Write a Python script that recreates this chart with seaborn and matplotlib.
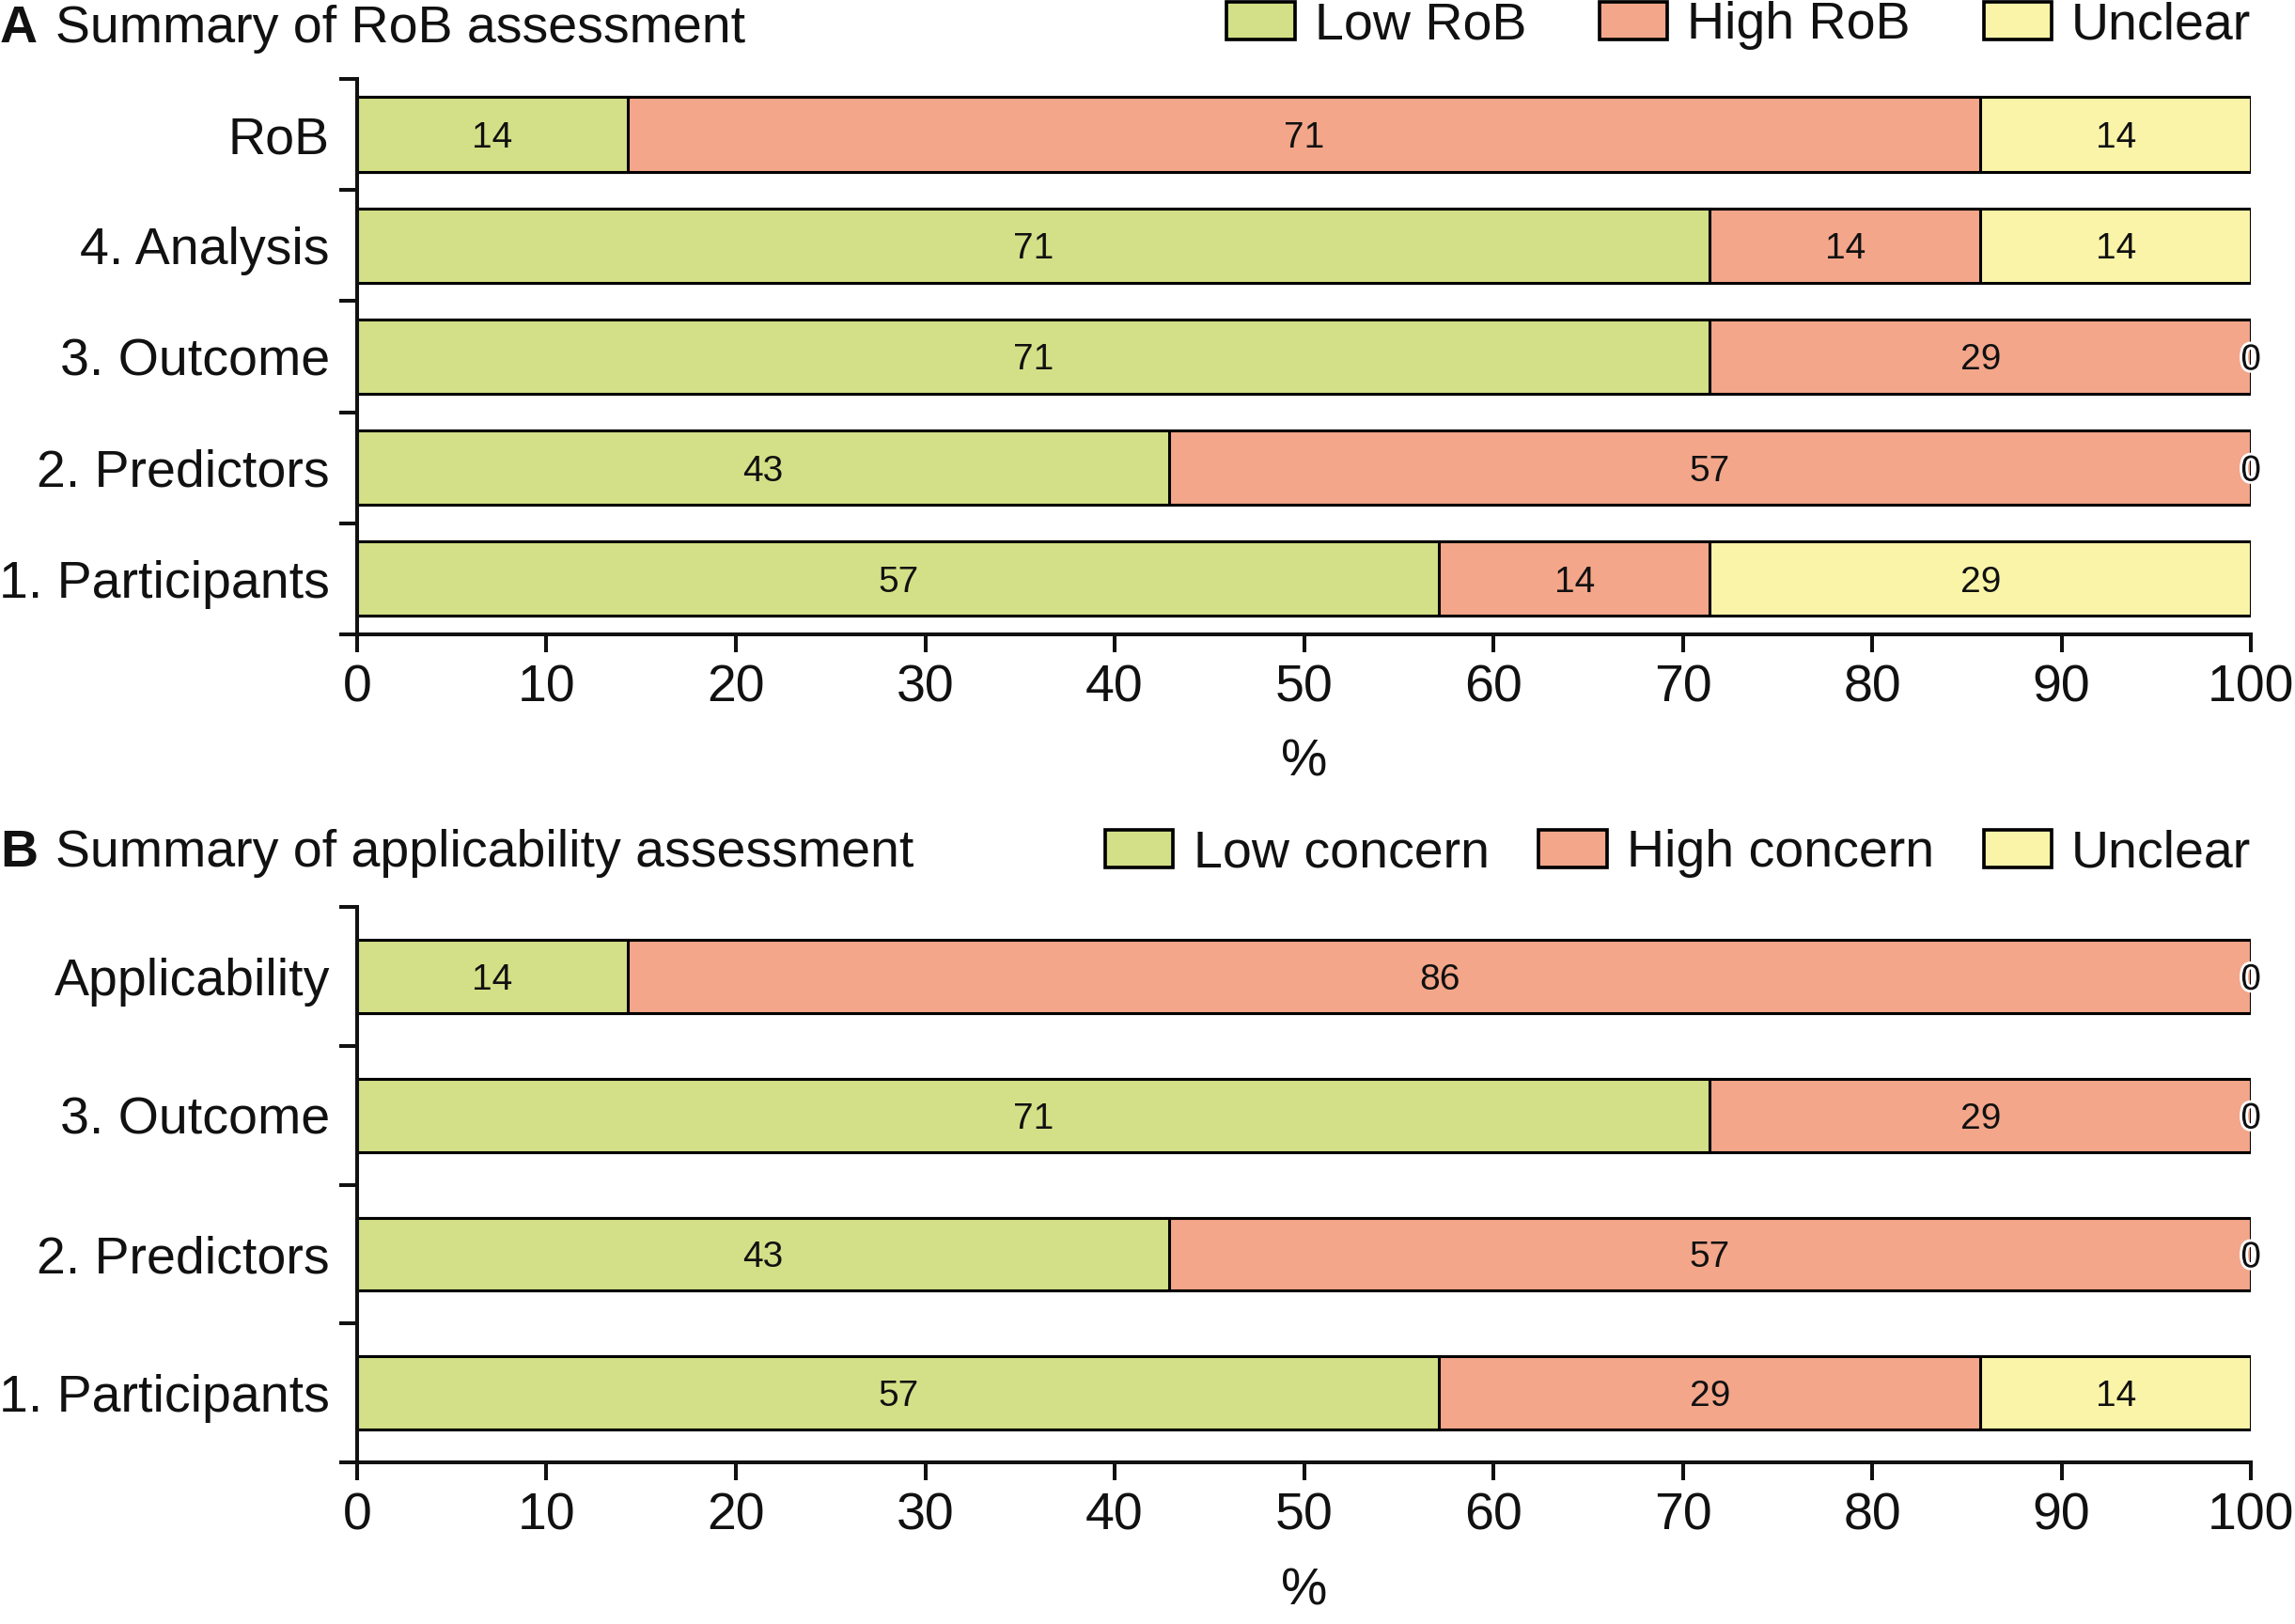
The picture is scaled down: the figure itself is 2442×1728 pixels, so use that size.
import numpy as np
import matplotlib
matplotlib.use("Agg")
import matplotlib.pyplot as plt
import matplotlib.patheffects as pe
from matplotlib.patches import Patch
import seaborn as sns

# Data (percent of studies, n = 7)
rob_domains = ["RoB", "4. Analysis", "3. Outcome", "2. Predictors", "1. Participants"]
rob_low = [14.29, 71.43, 71.43, 42.86, 57.14]
rob_high = [71.43, 14.29, 28.57, 57.14, 14.29]
rob_unclear = [14.29, 14.29, 0.0, 0.0, 28.57]
rob_legend = ["Low RoB", "High RoB", "Unclear"]

app_domains = ["Applicability", "3. Outcome", "2. Predictors", "1. Participants"]
app_low = [14.29, 71.43, 42.86, 57.14]
app_high = [85.71, 28.57, 57.14, 28.57]
app_unclear = [0.0, 0.0, 0.0, 14.29]
app_legend = ["Low concern", "High concern", "Unclear"]

x_ticks = [0, 10, 20, 30, 40, 50, 60, 70, 80, 90, 100]

GREEN = "#d4e087"
SALMON = "#f3a68a"
YELLOW = "#faf4a8"
COLORS = [GREEN, SALMON, YELLOW]
INK = "#111111"

sns.set_style("ticks")
plt.rcParams["font.family"] = ["Liberation Sans", "DejaVu Sans"]
plt.rcParams.update({
    "text.color": INK,
    "axes.labelcolor": INK,
    "xtick.color": INK,
    "ytick.color": INK,
    "axes.edgecolor": INK,
})

LABEL_FS = 40
BAR_FS = 28
EDGE_LW = 2.2
AXIS_LW = 2.9


def draw_panel(ax, domains, low, high, unclear, legend_labels, bar_width, col_space):
    low = np.array(low)
    high = np.array(high)
    unclear = np.array(unclear)
    # stacked look: draw cumulative totals from the back to the front
    layers = [low + high + unclear, low + high, low]
    layer_colors = [YELLOW, SALMON, GREEN]
    for vals, col in zip(layers, layer_colors):
        sns.barplot(x=vals, y=domains, orient="h", color=col, saturation=1,
                    width=bar_width, edgecolor="black", linewidth=EDGE_LW, ax=ax)

    # segment labels
    for i in range(len(domains)):
        start = 0.0
        for seg in (low[i], high[i], unclear[i]):
            t = ax.text(start + seg / 2, i, f"{seg:.0f}", ha="center",
                        va="center_baseline", fontsize=BAR_FS, color=INK)
            if seg == 0:
                t.set_path_effects([pe.withStroke(linewidth=4, foreground="white")])
            start += seg

    n = len(domains)
    ax.set_xlim(0, 100)
    ax.set_ylim(n - 0.5, -0.5)
    ax.set_xticks(x_ticks)
    ax.set_xticklabels([str(v) for v in x_ticks], fontsize=LABEL_FS)
    ax.set_yticks(np.arange(-0.5, n, 1))
    ax.set_yticklabels([])
    ax.set_yticks(range(n), domains, minor=True)
    ax.tick_params(axis="y", which="minor", length=0, pad=21, labelsize=LABEL_FS)
    ax.tick_params(axis="y", which="major", length=13.5, width=AXIS_LW, direction="out")
    ax.tick_params(axis="x", which="major", length=13.5, width=AXIS_LW, direction="out",
                   pad=9, labelsize=LABEL_FS)
    for side in ("top", "right"):
        ax.spines[side].set_visible(False)
    for side in ("left", "bottom"):
        ax.spines[side].set_linewidth(AXIS_LW)
    ax.set_xlabel("%", fontsize=LABEL_FS, labelpad=20)
    ax.set_ylabel("")

    handles = [Patch(facecolor=c, edgecolor="black", linewidth=EDGE_LW * 1.2) for c in COLORS]
    ax.legend(handles, legend_labels, loc="center right", bbox_to_anchor=(1.0, 1.096),
              ncol=3, frameon=False, fontsize=LABEL_FS, handlelength=1.3,
              handleheight=0.72, handletextpad=0.38, columnspacing=col_space,
              borderaxespad=0, borderpad=0)


fig = plt.figure(figsize=(24.42, 17.28), dpi=100)
ax_a = fig.add_axes([0.1556, 0.6094, 0.8252, 0.3420])
ax_b = fig.add_axes([0.1556, 0.0995, 0.8252, 0.3420])

draw_panel(ax_a, rob_domains, rob_low, rob_high, rob_unclear, rob_legend, 0.67, 1.4)
draw_panel(ax_b, app_domains, app_low, app_high, app_unclear, app_legend, 0.527, 0.95)

fig.text(0.0, 0.982, "A", fontsize=LABEL_FS, fontweight="bold", va="center", ha="left")
fig.text(0.024, 0.982, "Summary of RoB assessment", fontsize=LABEL_FS, va="center", ha="left")
fig.text(0.0, 0.4745, "B", fontsize=LABEL_FS, fontweight="bold", va="center", ha="left")
fig.text(0.024, 0.4745, "Summary of applicability assessment", fontsize=LABEL_FS,
         va="center", ha="left")

fig.savefig("out.png", dpi=100, facecolor="white")
